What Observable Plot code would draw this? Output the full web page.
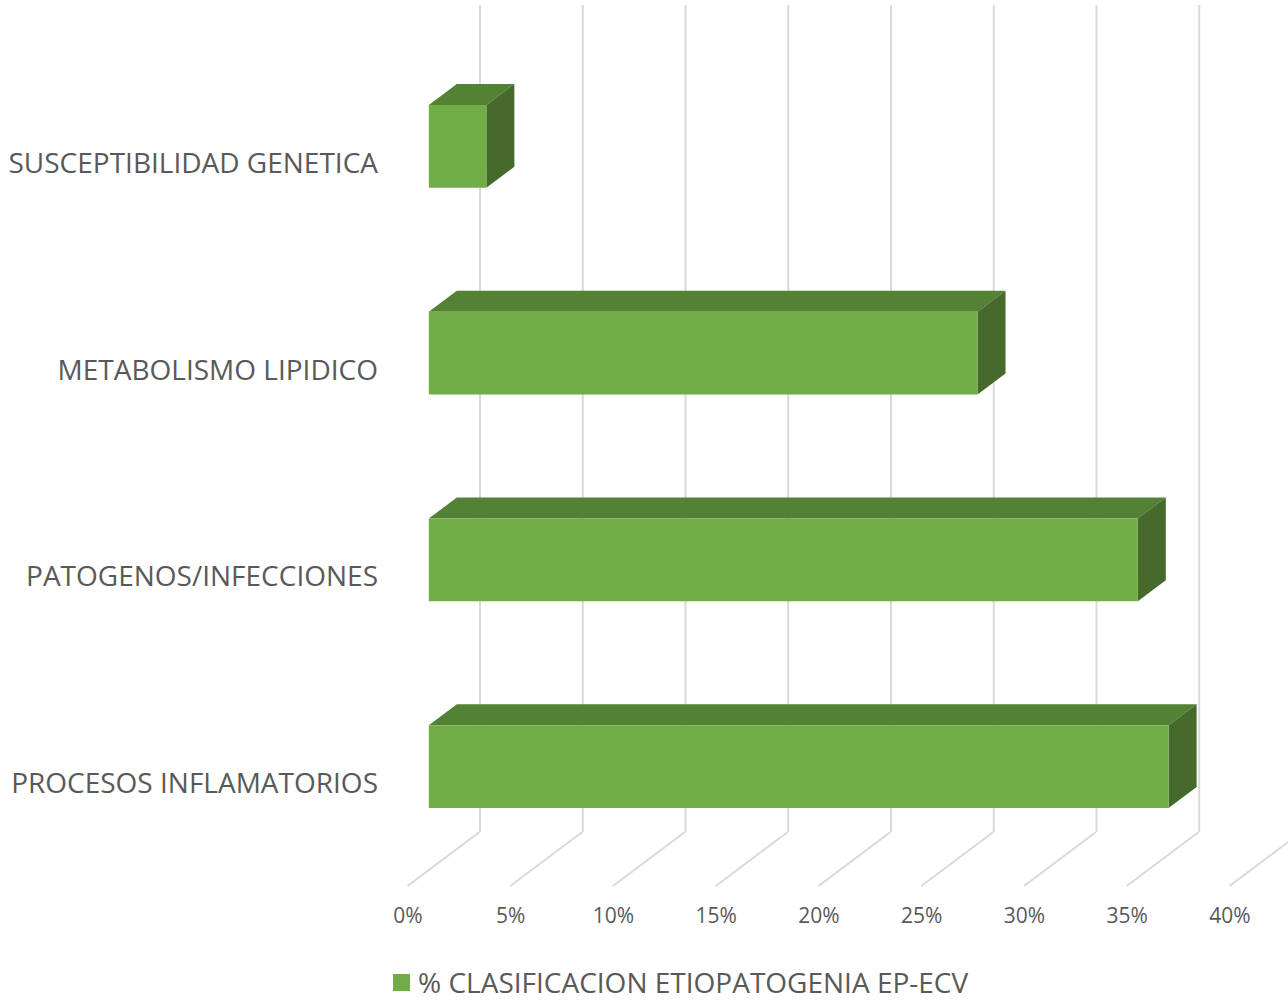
<!DOCTYPE html>
<html>
<head>
<meta charset="utf-8">
<script src="https://cdn.jsdelivr.net/npm/d3@7"></script>
<script src="https://cdn.jsdelivr.net/npm/@observablehq/plot@0.6"></script>
<style>
  html, body { margin: 0; padding: 0; background: #fff; overflow: hidden; }
  body { position: relative; width: 1288px; height: 1002px; }
  #chart svg { display: block; }
  #legend { position: absolute; left: 393px; top: 963px; height: 38px;
            display: flex; align-items: center; font-family: "Open Sans", sans-serif;
            font-size: 28px; color: #595959; line-height: 38px; white-space: nowrap; }
  #legend .sw { width: 17px; height: 17px; background: #70AD47; margin-right: 8px; flex: none; }
</style>
</head>
<body>
<div id="chart"></div>
<div id="legend"><span class="sw"></span><span id="legendText"></span></div>
<script>
const categories = ["SUSCEPTIBILIDAD GENETICA", "METABOLISMO LIPIDICO", "PATOGENOS/INFECCIONES", "PROCESOS INFLAMATORIOS"];
const values = [2.8, 26.7, 34.5, 36.0];
const xTicks = [0, 5, 10, 15, 20, 25, 30, 35, 40];
const seriesName = "% CLASIFICACION ETIOPATOGENIA EP-ECV";

const data = categories.map((c, i) => ({cat: c, v: values[i]}));

// oblique 3D projection (pixels) : full depth of the floor
const DX = 72, DY = 54;
const Z0 = 0.296, Z1 = 0.685; // bar depth range
const frontColor = "#70AD47", topColor = "#548235", sideColor = "#46692C";
const gridColor = "#D9D9D9";
const textColor = "#595959";
const font = "'Open Sans', sans-serif";

function faces(index, scales, values_, dims) {
  const x = scales.x, y = scales.y;
  const bw = y.bandwidth();
  const floorY = dims.height - dims.marginBottom;
  const g = d3.create("svg:g");
  // floor diagonal gridlines
  g.append("g").selectAll("path").data(xTicks).join("path")
    .attr("d", t => `M${x(t)},${floorY}L${x(t) + DX},${floorY - DY}`)
    .attr("stroke", gridColor).attr("stroke-width", 2).attr("fill", "none");
  const ddx = (Z1 - Z0) * DX, ddy = (Z1 - Z0) * DY;
  const bars = g.append("g");
  data.forEach(d => {
    const x0 = x(0) + Z0 * DX, x1 = x(d.v) + Z0 * DX;
    const yt = y(d.cat) - Z0 * DY, yb = yt + bw;
    bars.append("path")
      .attr("d", `M${x0},${yt}L${x1},${yt}L${x1 + ddx},${yt - ddy}L${x0 + ddx},${yt - ddy}Z`)
      .attr("fill", topColor);
    bars.append("path")
      .attr("d", `M${x1},${yt}L${x1 + ddx},${yt - ddy}L${x1 + ddx},${yb - ddy}L${x1},${yb}Z`)
      .attr("fill", sideColor);
  });
  return g.node();
}

const plot = Plot.plot({
  width: 1288,
  height: 960,
  marginLeft: 407.5,
  marginRight: 58.5,
  marginTop: 59,
  marginBottom: 74,
  style: {fontFamily: font, background: "#fff"},
  x: {domain: [0, 40], axis: null},
  y: {domain: categories, axis: null, paddingInner: 0.6, paddingOuter: 0.3, round: false},
  marks: [
    Plot.ruleX(xTicks, {x: d => d, dx: DX, dy: -DY, stroke: gridColor, strokeWidth: 2}),
    faces,
    Plot.barX(data, {x: "v", y: "cat", fill: frontColor, dx: Z0 * DX, dy: -Z0 * DY}),
    Plot.text(xTicks, {x: d => d, frameAnchor: "bottom", dy: 36, text: d => d + "%",
      fontSize: 21, fill: textColor, fontFamily: font}),
    Plot.text(categories, {y: d => d, x: 0, dx: -30, dy: 1, textAnchor: "end", text: d => d,
      fontSize: 28, fill: textColor, fontFamily: font})
  ]
});
document.getElementById("chart").appendChild(plot);
document.getElementById("legendText").textContent = seriesName;
</script>
</body>
</html>
